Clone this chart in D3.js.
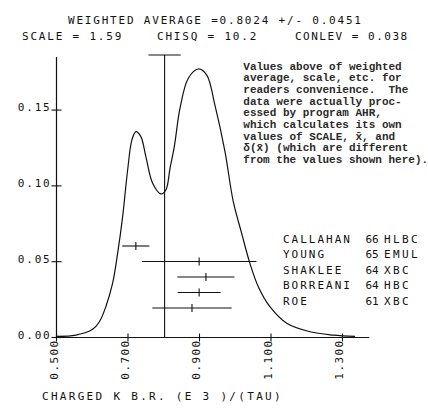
<!DOCTYPE html>
<html>
<head>
<meta charset="utf-8">
<script src="https://cdn.jsdelivr.net/npm/d3@7"></script>
<style>
  html, body { margin: 0; padding: 0; background: #fff; }
  svg { display: block; }
  .plot { font-family: "DejaVu Sans Mono", monospace; font-size: 11px; letter-spacing: 1.8px; fill: #111; }
  .type { font-family: "Liberation Mono", "Courier New", monospace; font-size: 11px; font-weight: bold; fill: #2a2a2a; }
</style>
</head>
<body>
<script>
// ---- data ----
const curveX = [0.500, 0.5545, 0.601, 0.620, 0.638, 0.657, 0.671, 0.685, 0.699, 0.711, 0.722, 0.736, 0.750, 0.769, 0.792, 0.806, 0.8175, 0.8295, 0.8455, 0.8687, 0.8966, 0.920, 0.943, 0.9713, 0.9945, 1.018, 1.041, 1.0645, 1.097, 1.144, 1.209, 1.274, 1.335];
const curveY = [0.0008, 0.0016, 0.0054, 0.0104, 0.0203, 0.0358, 0.0555, 0.0797, 0.1105, 0.1303, 0.1358, 0.1325, 0.1193, 0.1017, 0.0947, 0.0973, 0.1116, 0.1259, 0.1512, 0.1710, 0.1771, 0.1732, 0.1534, 0.1226, 0.0896, 0.0687, 0.0489, 0.0335, 0.0203, 0.0094, 0.0038, 0.0016, 0.0007];

const experiments = ["CALLAHAN", "YOUNG", "SHAKLEE", "BORREANI", "ROE"];
const years = ["66", "65", "64", "64", "61"];
const techniques = ["HLBC", "EMUL", "XBC", "HBC", "XBC"];
const values = [0.722, 0.899, 0.918, 0.899, 0.879];
const errors = [0.038, 0.160, 0.080, 0.060, 0.111];

const weightedAvg = 0.8024;
const weightedErr = 0.0451;

const xTicks = [0.5, 0.7, 0.9, 1.1, 1.3];
const xTickLabels = ["0.500", "0.700", "0.900", "1.100", "1.300"];
const yTicks = [0, 0.05, 0.10, 0.15];
const yTickLabels = ["0.00", "0.05", "0.10", "0.15"];

const headerLine1 = "WEIGHTED AVERAGE =0.8024 +/- 0.0451";
const headerScale = "SCALE = 1.59";
const headerChisq = "CHISQ = 10.2";
const headerConlev = "CONLEV = 0.038";
const xTitle = "CHARGED K B.R. (E 3 )/(TAU)";
const noteLines = [
  "Values above of weighted",
  "average, scale, etc. for",
  "readers convenience.  The",
  "data were actually proc-",
  "essed by program AHR,",
  "which calculates its own",
  "values of SCALE, x\u0304, and",
  "\u03b4(x\u0304) (which are different",
  "from the values shown here)."
];

// ---- layout ----
const W = 428, H = 416;
const svg = d3.select("body").append("svg").attr("width", W).attr("height", H);

const x = d3.scaleLinear().domain([0.5, 1.375]).range([56.5, 369.3]);
const y = d3.scaleLinear().domain([0, 0.185]).range([337.5, 57]);
const row = d3.scalePoint().domain(experiments).range([246, 308]);

const ink = "#111";

// axes lines
svg.append("line").attr("x1", x(0.5)).attr("x2", x(0.5)).attr("y1", y(0)).attr("y2", y(0.185))
  .attr("stroke", ink).attr("stroke-width", 1.2);
svg.append("line").attr("x1", x(0.5)).attr("x2", x(1.375)).attr("y1", y(0)).attr("y2", y(0))
  .attr("stroke", ink).attr("stroke-width", 1.2);

// y ticks (crossing)
svg.selectAll(".ytick").data(yTicks).enter().append("line")
  .attr("x1", x(0.5) - 5).attr("x2", x(0.5) + 5)
  .attr("y1", d => y(d)).attr("y2", d => y(d))
  .attr("stroke", ink).attr("stroke-width", 1.1);
svg.selectAll(".ylab").data(yTicks).enter().append("text")
  .attr("class", "plot")
  .attr("x", x(0.5) - 5).attr("y", d => y(d) + 1)
  .attr("text-anchor", "end")
  .text((d, i) => yTickLabels[i]);

// x ticks (crossing)
svg.selectAll(".xtick").data(xTicks).enter().append("line")
  .attr("x1", d => x(d)).attr("x2", d => x(d))
  .attr("y1", y(0) - 4).attr("y2", y(0) + 4)
  .attr("stroke", ink).attr("stroke-width", 1.1);
svg.selectAll(".xlab").data(xTicks).enter().append("text")
  .attr("class", "plot")
  .attr("transform", d => `translate(${x(d) + 1},${y(0) + 2}) rotate(-90)`)
  .attr("text-anchor", "end")
  .style("letter-spacing", "1.4px")
  .text((d, i) => xTickLabels[i]);

// ideogram curve
const pts = curveX.map((v, i) => [v, curveY[i]]);
svg.append("path").datum(pts)
  .attr("d", d3.line().x(d => x(d[0])).y(d => y(d[1])).curve(d3.curveCatmullRom.alpha(0.5)))
  .attr("fill", "none").attr("stroke", ink).attr("stroke-width", 1.2);

// weighted average line with error bar
svg.append("line").attr("x1", x(weightedAvg)).attr("x2", x(weightedAvg))
  .attr("y1", y(0)).attr("y2", y(0.1863)).attr("stroke", ink).attr("stroke-width", 1.1);
svg.append("line").attr("x1", x(weightedAvg - weightedErr)).attr("x2", x(weightedAvg + weightedErr))
  .attr("y1", y(0.1863)).attr("y2", y(0.1863)).attr("stroke", ink).attr("stroke-width", 1.1);

// measurements
const meas = experiments.map((e, i) => ({ e, v: values[i], s: errors[i] }));
const g = svg.selectAll(".meas").data(meas).enter().append("g");
g.append("line").attr("x1", d => x(d.v - d.s)).attr("x2", d => x(d.v + d.s))
  .attr("y1", d => row(d.e)).attr("y2", d => row(d.e))
  .attr("stroke", ink).attr("stroke-width", 1.1);
g.append("line").attr("x1", d => x(d.v)).attr("x2", d => x(d.v))
  .attr("y1", d => row(d.e) - 4).attr("y2", d => row(d.e) + 4)
  .attr("stroke", ink).attr("stroke-width", 1.1);

// legend
svg.selectAll(".lname").data(experiments).enter().append("text")
  .attr("class", "plot").attr("x", 283).attr("y", d => row(d) - 3.5)
  .style("letter-spacing", "2px").text(d => d);
svg.selectAll(".lyear").data(experiments).enter().append("text")
  .attr("class", "plot").attr("x", 365.5).attr("y", d => row(d) - 3.5)
  .style("letter-spacing", "0px").text((d, i) => years[i]);
svg.selectAll(".ltech").data(experiments).enter().append("text")
  .attr("class", "plot").attr("x", 384).attr("y", d => row(d) - 3.5)
  .style("letter-spacing", "2.4px").text((d, i) => techniques[i]);

// header
svg.append("text").attr("class", "plot").attr("x", 68).attr("y", 24).text(headerLine1);
svg.append("text").attr("class", "plot").attr("x", 22).attr("y", 40).text(headerScale);
svg.append("text").attr("class", "plot").attr("x", 157).attr("y", 40).text(headerChisq);
svg.append("text").attr("class", "plot").attr("x", 295).attr("y", 40)
  .style("letter-spacing", "1.5px").text(headerConlev);

// x title
svg.append("text").attr("class", "plot").attr("x", 42).attr("y", 400)
  .style("letter-spacing", "2.3px").text(xTitle);

// typed note
svg.selectAll(".note").data(noteLines).enter().append("text")
  .attr("class", "type").attr("x", 243.3).attr("y", (d, i) => 69.5 + i * 11.67)
  .attr("xml:space", "preserve").style("white-space", "pre").text(d => d);
</script>
</body>
</html>
